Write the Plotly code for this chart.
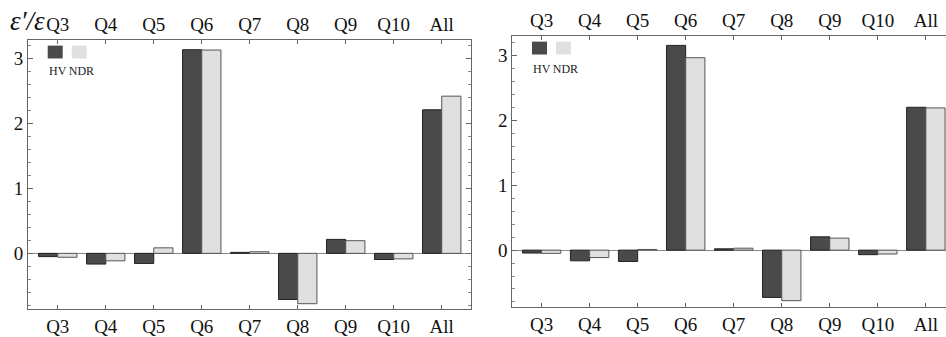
import plotly.graph_objects as go

categories = ["Q3", "Q4", "Q5", "Q6", "Q7", "Q8", "Q9", "Q10", "All"]
left_hv = [-0.05, -0.165, -0.155, 3.135, 0.015, -0.71, 0.215, -0.095, 2.21]
left_ndr = [-0.06, -0.115, 0.085, 3.13, 0.025, -0.775, 0.195, -0.085, 2.42]
right_hv = [-0.045, -0.165, -0.175, 3.16, 0.02, -0.73, 0.205, -0.07, 2.205]
right_ndr = [-0.05, -0.115, 0.01, 2.97, 0.03, -0.78, 0.185, -0.06, 2.195]
series_names = ["HV", "NDR"]
y_ticks = [0, 1, 2, 3]

W, H = 946, 337
DARK = "#4a4a4a"
LIGHT = "#e0e0e0"
FONT = "Liberation Serif"
idx = list(range(len(categories)))

fig = go.Figure()

panels = [
    dict(hv=left_hv, ndr=left_ndr, xa="x", ya="y", xtop="x3",
         dom_x=[28 / W, 471 / W], dom_y=[1 - 312 / H, 1 - 40 / H],
         xr=[-0.62, 8.61], yr=[-0.86, 3.29], mirror_y=True),
    dict(hv=right_hv, ndr=right_ndr, xa="x2", ya="y2", xtop="x4",
         dom_x=[512.3 / W, 1.0], dom_y=[1 - 309.7 / H, 1 - 36 / H],
         xr=[-0.61, 8.42], yr=[-0.877, 3.31], mirror_y=False),
]

for p in panels:
    fig.add_trace(go.Bar(x=idx, y=p["hv"], name=series_names[0], xaxis=p["xa"], yaxis=p["ya"],
                         marker=dict(color=DARK, line=dict(color="#222222", width=1)),
                         showlegend=False, offsetgroup="a"))
    fig.add_trace(go.Bar(x=idx, y=p["ndr"], name=series_names[1], xaxis=p["xa"], yaxis=p["ya"],
                         marker=dict(color=LIGHT, line=dict(color="#555555", width=1)),
                         showlegend=False, offsetgroup="b"))
    fig.add_trace(go.Scatter(x=idx, y=[0] * len(idx), xaxis=p["xtop"], yaxis=p["ya"],
                             mode="markers", marker=dict(opacity=0), hoverinfo="skip",
                             showlegend=False))

axis_common = dict(tickmode="array", tickvals=idx, ticktext=categories,
                   ticks="inside", ticklen=4, tickcolor="#666666",
                   showgrid=False, zeroline=False,
                   tickfont=dict(family=FONT, size=19, color="#111111"))

layout = dict(
    width=W, height=H, margin=dict(l=0, r=0, t=0, b=0),
    paper_bgcolor="white", plot_bgcolor="white",
    barmode="group", bargap=0.2, bargroupgap=0,
    font=dict(family=FONT),
)

for i, p in enumerate(panels):
    xs = "xaxis" if i == 0 else "xaxis2"
    ys = "yaxis" if i == 0 else "yaxis2"
    xt = "xaxis3" if i == 0 else "xaxis4"
    layout[xs] = dict(axis_common, domain=p["dom_x"], range=p["xr"], anchor=p["ya"],
                      side="bottom", showline=True, linecolor="#666666", linewidth=1,
                      mirror=False)
    layout[xt] = dict(axis_common, domain=p["dom_x"], range=p["xr"], anchor=p["ya"],
                      overlaying=p["xa"], side="top", showline=True,
                      linecolor="#666666", linewidth=1)
    layout[ys] = dict(domain=p["dom_y"], range=p["yr"], anchor=p["xa"],
                      tickmode="array", tickvals=y_ticks,
                      ticks="inside", ticklen=5, tickcolor="#666666",
                      minor=dict(dtick=0.2, tick0=0, ticks="inside", ticklen=3, tickcolor="#888888"),
                      showgrid=False, zeroline=True, zerolinecolor="#888888", zerolinewidth=1,
                      showline=True, linecolor="#666666", linewidth=1,
                      mirror="ticks" if p["mirror_y"] else False,
                      tickfont=dict(family=FONT, size=19, color="#111111"))

fig.update_layout(**layout)

def px(x):
    return x / W

def py(y):
    return 1 - y / H

legend_pos = [(47.7, 46, 46.5, 72), (532, 42, 531, 70)]
for (lx, ly, tx, ty) in legend_pos:
    fig.add_shape(type="rect", xref="paper", yref="paper",
                  x0=px(lx), x1=px(lx + 15), y0=py(ly + 13), y1=py(ly),
                  fillcolor=DARK, line=dict(width=0))
    fig.add_shape(type="rect", xref="paper", yref="paper",
                  x0=px(lx + 24), x1=px(lx + 39), y0=py(ly + 13), y1=py(ly),
                  fillcolor=LIGHT, line=dict(width=0))
    fig.add_annotation(xref="paper", yref="paper", x=px(tx), y=py(ty),
                       text=series_names[0] + "\u2009" + series_names[1], showarrow=False,
                       xanchor="left", yanchor="middle",
                       font=dict(family=FONT, size=12, color="#222222"))

fig.add_annotation(xref="paper", yref="paper", x=px(8), y=py(21),
                   text="<i>ε′/ε</i>", showarrow=False, xanchor="left", yanchor="middle",
                   font=dict(family=FONT, size=27, color="#111111"))

fig.write_html("out.html")
